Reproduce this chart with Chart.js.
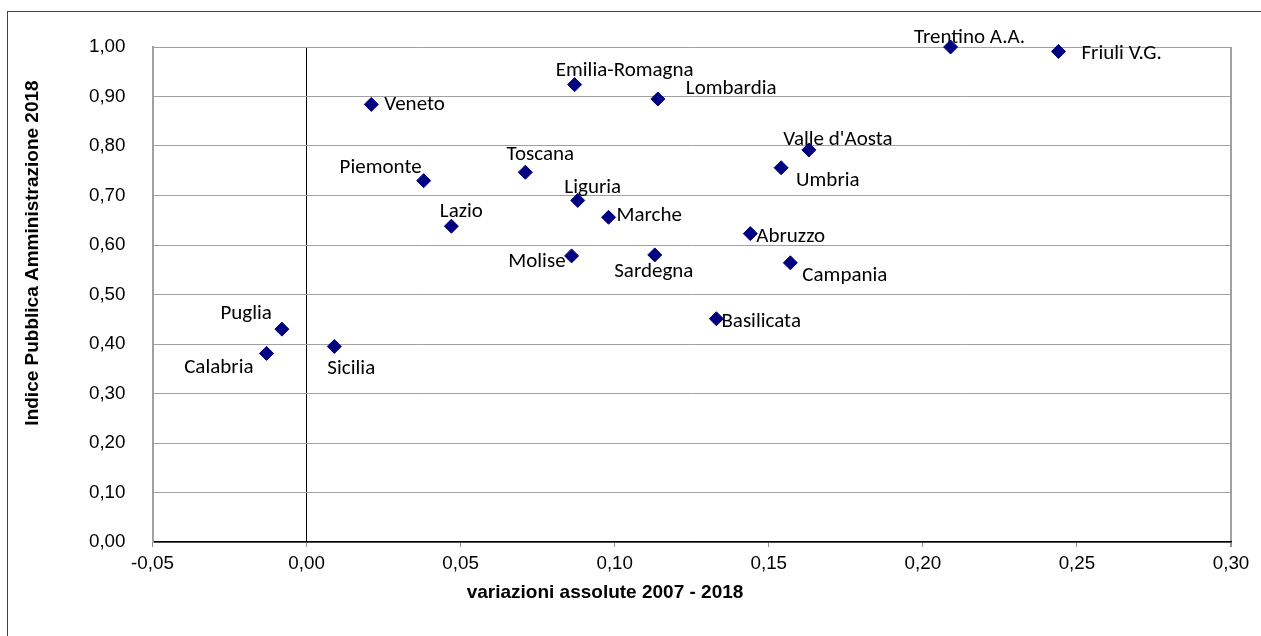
<!DOCTYPE html>
<html>
<head>
<meta charset="utf-8">
<script src="https://cdn.jsdelivr.net/npm/chart.js@4/dist/chart.umd.min.js"></script>
<style>
  html, body { margin: 0; padding: 0; background: #fff; }
  #wrap { position: relative; width: 1261px; height: 636px; }
</style>
</head>
<body>
<div id="wrap"><canvas id="grafico"></canvas></div>
<script>
// regioni e valori
const regioni = ["Trentino A.A.", "Friuli V.G.", "Veneto", "Piemonte", "Lazio",
  "Puglia", "Calabria", "Sicilia", "Emilia-Romagna", "Lombardia", "Toscana",
  "Liguria", "Marche", "Molise", "Sardegna", "Valle d'Aosta", "Umbria",
  "Abruzzo", "Campania", "Basilicata"];
const variazioni = [0.209, 0.244, 0.021, 0.038, 0.047,
  -0.008, -0.013, 0.009, 0.087, 0.114, 0.071,
  0.088, 0.098, 0.086, 0.113, 0.163, 0.154,
  0.144, 0.157, 0.133];
const indice = [1.000, 0.991, 0.884, 0.730, 0.638,
  0.430, 0.381, 0.395, 0.924, 0.895, 0.747,
  0.690, 0.656, 0.578, 0.580, 0.792, 0.756,
  0.623, 0.564, 0.451];

const xTitolo = "variazioni assolute 2007 - 2018";
const yTitolo = "Indice Pubblica Amministrazione 2018";

// where each label sits relative to its marker: [dx, dy, align]
const posEtichette = [
  [19, -9, "center"], [23, 2, "left"], [13, 0, "left"], [-2, -13, "right"], [10, -14, "center"],
  [-10, -15, "right"], [-13, 14, "right"], [17, 22, "center"], [50, -14, "center"], [28, -10, "left"],
  [15, -17, "center"], [15, -13, "center"], [8, -2, "left"], [-6, 6, "right"], [-1, 17, "center"],
  [29, -10, "center"], [15, 13, "left"], [6, 3, "left"], [12, 13, "left"], [5, 3, "left"]
];

// 2 decimals with comma, no "-0,00"
const virgola = (v) => {
  const r = Math.round(v * 100) / 100;
  return (r === 0 ? 0 : r).toFixed(2).replace(".", ",");
};

const cornice = {
  id: "cornice",
  beforeDraw(chart) {
    const ctx = chart.ctx;
    ctx.save();
    ctx.fillStyle = "#fff";
    ctx.fillRect(0, 0, chart.width, chart.height);
    ctx.strokeStyle = "#404040";
    ctx.lineWidth = 1;
    ctx.strokeRect(7.5, 11.5, chart.width + 20, chart.height + 20);
    ctx.restore();
  },
  afterDraw(chart) {
    const ctx = chart.ctx;
    ctx.save();
    ctx.fillStyle = "#000";
    ctx.font = "bold 19px 'Liberation Sans', Arial, sans-serif";
    ctx.textAlign = "center";
    ctx.textBaseline = "middle";
    ctx.fillText(xTitolo, 605, 593);
    ctx.translate(33, 253);
    ctx.rotate(-Math.PI / 2);
    ctx.fillText(yTitolo, 0, 0);
    ctx.restore();
  }
};

const etichette = {
  id: "etichette",
  beforeDatasetsDraw(chart) {
    const ctx = chart.ctx;
    const meta = chart.getDatasetMeta(0);
    ctx.save();
    ctx.fillStyle = "#000";
    ctx.font = "21px Carlito, Lato, sans-serif";
    ctx.textBaseline = "middle";
    meta.data.forEach((pt, i) => {
      const p = posEtichette[i];
      ctx.textAlign = p[2];
      ctx.fillText(regioni[i], pt.x + p[0], pt.y + p[1]);
    });
    ctx.restore();
  }
};

new Chart(document.getElementById("grafico"), {
  type: "scatter",
  data: {
    datasets: [{
      data: variazioni.map((x, i) => ({ x: x, y: indice[i] })),
      pointStyle: "rectRot",
      pointRadius: 7,
      pointHoverRadius: 7,
      backgroundColor: "#000080",
      borderColor: "#000080",
      borderWidth: 1,
      clip: false
    }]
  },
  options: {
    responsive: true,
    maintainAspectRatio: false,
    animation: false,
    layout: { padding: { left: 0, top: 47, right: 30, bottom: 0 } },
    plugins: {
      legend: { display: false },
      tooltip: { enabled: false }
    },
    scales: {
      x: {
        type: "linear",
        min: -0.05,
        max: 0.30,
        afterFit: (s) => { s.height = 94; },
        ticks: {
          stepSize: 0.05,
          color: "#000",
          padding: 6,
          font: { family: "'Liberation Sans', Arial, sans-serif", size: 18.8 },
          callback: (v) => virgola(v)
        },
        grid: {
          color: (c) => Math.abs(c.tick.value) < 1e-9 ? "#000" :
            (Math.abs(c.tick.value - 0.3) < 1e-9 ? "#a0a0a0" : "rgba(0,0,0,0)"),
          lineWidth: (c) => Math.abs(c.tick.value - 0.3) < 1e-9 ? 2 : 1,
          tickColor: "#909090",
          tickLength: 5
        },
        border: { color: "#000", width: 1.5 }
      },
      y: {
        type: "linear",
        min: 0,
        max: 1,
        afterFit: (s) => { s.width = 152.5; },
        ticks: {
          stepSize: 0.1,
          color: "#000",
          padding: 27,
          font: { family: "'Liberation Sans', Arial, sans-serif", size: 18.8 },
          callback: (v) => virgola(v)
        },
        grid: { color: "#a0a0a0", lineWidth: 1, drawTicks: false },
        border: { color: "#a0a0a0", width: 2 }
      }
    }
  },
  plugins: [cornice, etichette]
});
</script>
</body>
</html>
